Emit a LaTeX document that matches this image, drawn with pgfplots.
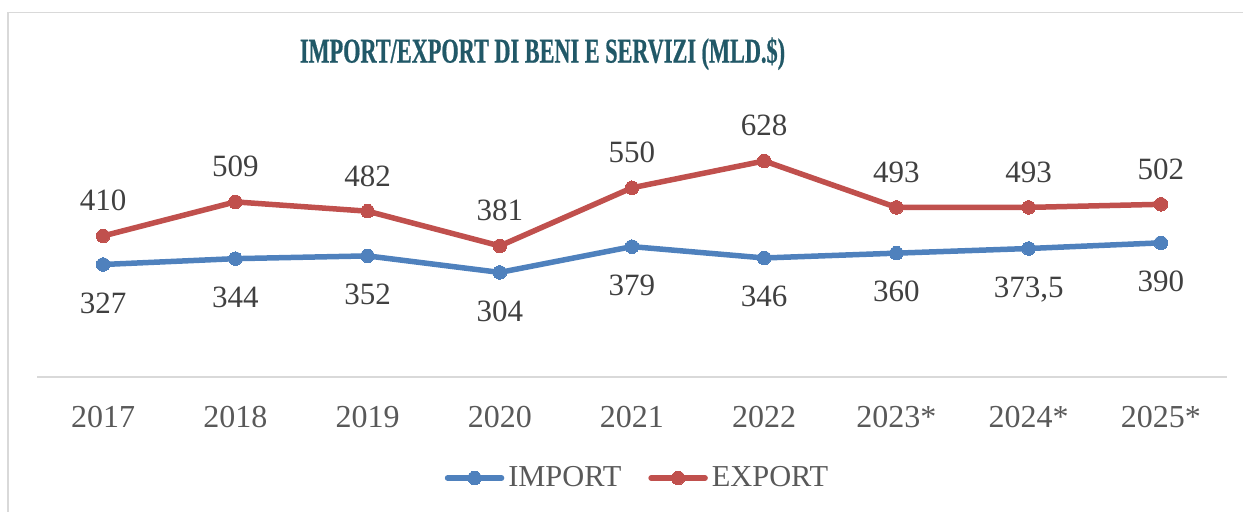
\documentclass[border=0pt]{standalone}
\usepackage{pgfplots}
\pgfplotsset{compat=1.18}
\usepackage{fontspec}
\setmainfont{Liberation Serif}
\newfontfamily\titlefont[FakeStretch=0.64,FakeBold=0.6]{Liberation Serif}
\definecolor{imp}{HTML}{4F81BD}
\definecolor{expc}{HTML}{C0504D}
\definecolor{ttl}{RGB}{33,88,103}
\definecolor{lbl}{HTML}{404040}
\definecolor{tck}{HTML}{595959}
\definecolor{frm}{HTML}{D9D9D9}
\begin{document}
\begin{tikzpicture}
\useasboundingbox (0,0) rectangle (621.5pt,256pt);
\draw[frm, line width=0.75pt] (4pt,0) -- (4pt,249.75pt) -- (621.5pt,249.75pt);
\node[font=\titlefont\bfseries\fontsize{17.4}{20}\selectfont, text=ttl, anchor=base, inner sep=0pt] at (271.25pt,224.7pt) {IMPORT/EXPORT DI BENI E SERVIZI (MLD.\$)};
\begin{axis}[
  at={(18.5pt,67.5pt)}, anchor=south west,
  scale only axis, width=595pt, height=137.6pt,
  xmin=-0.5, xmax=8.5, ymin=0, ymax=800,
  clip=false,
  axis y line=none, axis x line*=bottom,
  x axis line style={frm, line width=1pt, -},
  xtick={0,...,8},
  xticklabels={2017,2018,2019,2020,2021,2022,2023*,2024*,2025*},
  major tick length=0pt,
  xticklabel style={font=\fontsize{16}{19}\selectfont, text=tck, anchor=base, yshift=-25.5pt},
  /pgf/number format/.cd, use comma, 1000 sep={}, assume math mode=true,
  /pgfplots/.cd,
  every node near coord/.append style={font=\fontsize{15.5}{18}\selectfont, text=lbl, anchor=base},
  legend style={at={(0.5055,-0.367)}, anchor=center, draw=none, fill=none,
    legend columns=2, font=\fontsize{15.2}{18}\selectfont, text=tck,
    /tikz/every even column/.append style={column sep=11.5pt}},
  legend image code/.code={\draw[mark repeat=2,mark phase=2,#1] plot coordinates {(0pt,0pt) (13.5pt,0pt) (27pt,0pt)};},
]
\addplot[imp, line width=2.75pt, line cap=round, line join=round, mark=*, mark size=3.4pt, mark options={solid, line width=0pt, fill=imp},
  nodes near coords, nodes near coords style={yshift=-24.3pt}]
  coordinates {(0,327) (1,344) (2,352) (3,304) (4,379) (5,346) (6,360) (7,373.5) (8,390)};
\addlegendentry{IMPORT}
\addplot[expc, line width=2.75pt, line cap=round, line join=round, mark=*, mark size=3.4pt, mark options={solid, line width=0pt, fill=expc},
  nodes near coords, nodes near coords style={yshift=12.5pt}]
  coordinates {(0,410) (1,509) (2,482) (3,381) (4,550) (5,628) (6,493) (7,493) (8,502)};
\addlegendentry{EXPORT}
\end{axis}
\end{tikzpicture}
\end{document}
